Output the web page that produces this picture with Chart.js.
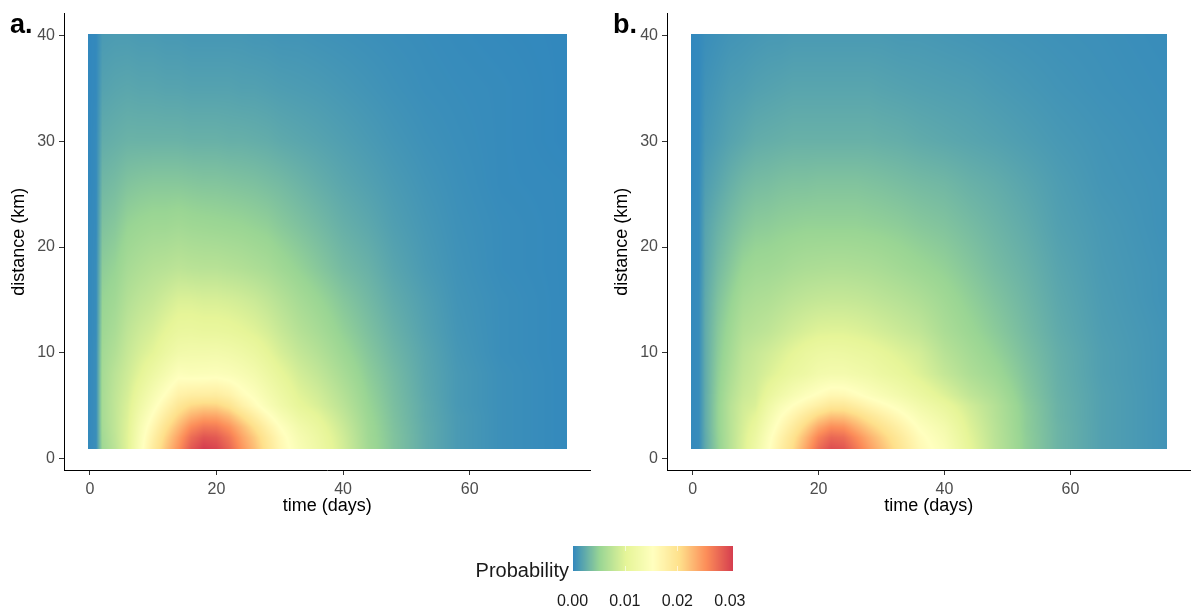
<!DOCTYPE html>
<html>
<head>
<meta charset="utf-8">
<title>Probability by time and distance</title>
<script src="https://cdn.jsdelivr.net/npm/chart.js@4.4.1/dist/chart.umd.min.js"></script>
<style>
  html, body { margin: 0; padding: 0; background: #fff; }
  body { position: relative; width: 1191px; height: 609px; overflow: hidden; }
  canvas { position: absolute; }
</style>
</head>
<body>
<canvas id="panelA" width="600" height="530" style="left:0;top:0"></canvas>
<canvas id="panelB" width="588" height="530" style="left:603px;top:0"></canvas>
<canvas id="scaleBar" width="320" height="89" style="left:440px;top:520px"></canvas>
<script>
// grid nodes: days since onset, distance from source
const timeDays = [0, 1, 2, 4, 6, 8, 10, 12, 14, 16, 18, 20, 22, 24, 26, 28, 30, 33, 36, 40, 44, 48, 53, 58, 65, 75];
const distanceKm = [1, 2, 3, 4, 5, 6, 8, 10, 12, 15, 18, 22, 26, 30, 35, 40];

// one row per day in timeDays, one value per distance in distanceKm
const probA = [
  [0.0002, 0.0002, 0.0002, 0.0002, 0.0002, 0.0002, 0.0002, 0.0002, 0.0002, 0.0002, 0.0002, 0.0002, 0.0001, 0.0001, 0.0001, 0.0001],
  [0.0005, 0.0005, 0.0005, 0.0005, 0.0005, 0.0005, 0.0005, 0.0005, 0.0004, 0.0004, 0.0004, 0.0003, 0.0003, 0.0003, 0.0002, 0.0002],
  [0.0056, 0.0058, 0.0060, 0.0061, 0.0061, 0.0061, 0.0060, 0.0058, 0.0055, 0.0051, 0.0046, 0.0039, 0.0032, 0.0025, 0.0018, 0.0013],
  [0.0075, 0.0077, 0.0078, 0.0078, 0.0078, 0.0077, 0.0074, 0.0068, 0.0063, 0.0057, 0.0051, 0.0043, 0.0035, 0.0027, 0.0020, 0.0014],
  [0.0100, 0.0100, 0.0099, 0.0097, 0.0095, 0.0092, 0.0087, 0.0082, 0.0077, 0.0069, 0.0061, 0.0051, 0.0040, 0.0029, 0.0021, 0.0014],
  [0.0145, 0.0142, 0.0137, 0.0130, 0.0122, 0.0115, 0.0102, 0.0093, 0.0086, 0.0076, 0.0066, 0.0054, 0.0042, 0.0029, 0.0020, 0.0013],
  [0.0185, 0.0178, 0.0168, 0.0157, 0.0146, 0.0136, 0.0118, 0.0102, 0.0093, 0.0081, 0.0070, 0.0056, 0.0043, 0.0029, 0.0020, 0.0013],
  [0.0220, 0.0212, 0.0200, 0.0185, 0.0170, 0.0156, 0.0133, 0.0115, 0.0103, 0.0088, 0.0072, 0.0056, 0.0043, 0.0029, 0.0019, 0.0012],
  [0.0252, 0.0243, 0.0228, 0.0211, 0.0193, 0.0176, 0.0148, 0.0126, 0.0111, 0.0095, 0.0075, 0.0058, 0.0043, 0.0029, 0.0019, 0.0012],
  [0.0288, 0.0276, 0.0256, 0.0232, 0.0208, 0.0182, 0.0145, 0.0128, 0.0112, 0.0095, 0.0073, 0.0056, 0.0042, 0.0028, 0.0018, 0.0011],
  [0.0306, 0.0292, 0.0269, 0.0242, 0.0213, 0.0183, 0.0146, 0.0128, 0.0110, 0.0093, 0.0072, 0.0055, 0.0041, 0.0028, 0.0018, 0.0011],
  [0.0300, 0.0288, 0.0267, 0.0241, 0.0212, 0.0184, 0.0147, 0.0129, 0.0110, 0.0093, 0.0072, 0.0054, 0.0041, 0.0028, 0.0018, 0.0011],
  [0.0280, 0.0270, 0.0252, 0.0228, 0.0200, 0.0176, 0.0144, 0.0126, 0.0108, 0.0091, 0.0070, 0.0053, 0.0040, 0.0027, 0.0018, 0.0011],
  [0.0250, 0.0242, 0.0228, 0.0205, 0.0178, 0.0160, 0.0138, 0.0121, 0.0104, 0.0088, 0.0068, 0.0052, 0.0039, 0.0027, 0.0017, 0.0011],
  [0.0225, 0.0218, 0.0203, 0.0182, 0.0160, 0.0148, 0.0130, 0.0114, 0.0099, 0.0084, 0.0065, 0.0050, 0.0038, 0.0026, 0.0017, 0.0010],
  [0.0196, 0.0190, 0.0177, 0.0160, 0.0142, 0.0133, 0.0118, 0.0104, 0.0092, 0.0078, 0.0062, 0.0048, 0.0036, 0.0025, 0.0016, 0.0010],
  [0.0168, 0.0164, 0.0154, 0.0140, 0.0126, 0.0119, 0.0106, 0.0093, 0.0083, 0.0071, 0.0057, 0.0044, 0.0034, 0.0023, 0.0015, 0.0009],
  [0.0140, 0.0136, 0.0128, 0.0117, 0.0106, 0.0100, 0.0090, 0.0080, 0.0071, 0.0061, 0.0050, 0.0039, 0.0030, 0.0021, 0.0014, 0.0009],
  [0.0120, 0.0117, 0.0111, 0.0103, 0.0094, 0.0089, 0.0079, 0.0070, 0.0062, 0.0053, 0.0043, 0.0034, 0.0026, 0.0019, 0.0013, 0.0008],
  [0.0090, 0.0088, 0.0084, 0.0079, 0.0074, 0.0070, 0.0062, 0.0055, 0.0049, 0.0042, 0.0034, 0.0027, 0.0021, 0.0016, 0.0011, 0.0007],
  [0.0058, 0.0057, 0.0056, 0.0054, 0.0052, 0.0050, 0.0046, 0.0042, 0.0038, 0.0033, 0.0028, 0.0022, 0.0017, 0.0013, 0.0009, 0.0006],
  [0.0040, 0.0040, 0.0039, 0.0038, 0.0037, 0.0036, 0.0034, 0.0031, 0.0028, 0.0024, 0.0020, 0.0016, 0.0013, 0.0010, 0.0007, 0.0005],
  [0.0024, 0.0024, 0.0024, 0.0023, 0.0023, 0.0022, 0.0021, 0.0020, 0.0018, 0.0016, 0.0013, 0.0011, 0.0009, 0.0007, 0.0005, 0.0004],
  [0.0013, 0.0013, 0.0013, 0.0013, 0.0012, 0.0012, 0.0012, 0.0011, 0.0010, 0.0009, 0.0008, 0.0007, 0.0006, 0.0005, 0.0004, 0.0003],
  [0.0006, 0.0006, 0.0006, 0.0006, 0.0006, 0.0006, 0.0006, 0.0005, 0.0005, 0.0005, 0.0004, 0.0004, 0.0003, 0.0003, 0.0003, 0.0002],
  [0.0002, 0.0002, 0.0002, 0.0002, 0.0002, 0.0002, 0.0002, 0.0002, 0.0002, 0.0002, 0.0002, 0.0002, 0.0002, 0.0001, 0.0001, 0.0001]
];

const probB = [
  [0.0002, 0.0002, 0.0002, 0.0002, 0.0002, 0.0002, 0.0002, 0.0002, 0.0002, 0.0002, 0.0002, 0.0002, 0.0001, 0.0001, 0.0001, 0.0001],
  [0.0004, 0.0004, 0.0004, 0.0004, 0.0004, 0.0004, 0.0004, 0.0004, 0.0004, 0.0004, 0.0003, 0.0003, 0.0003, 0.0002, 0.0002, 0.0002],
  [0.0023, 0.0023, 0.0024, 0.0024, 0.0024, 0.0024, 0.0024, 0.0024, 0.0024, 0.0023, 0.0021, 0.0019, 0.0015, 0.0011, 0.0008, 0.0005],
  [0.0048, 0.0049, 0.0050, 0.0050, 0.0050, 0.0049, 0.0047, 0.0045, 0.0043, 0.0039, 0.0034, 0.0028, 0.0021, 0.0015, 0.0011, 0.0007],
  [0.0072, 0.0072, 0.0072, 0.0072, 0.0072, 0.0069, 0.0064, 0.0060, 0.0056, 0.0050, 0.0043, 0.0035, 0.0027, 0.0019, 0.0014, 0.0009],
  [0.0095, 0.0094, 0.0092, 0.0090, 0.0088, 0.0084, 0.0079, 0.0075, 0.0069, 0.0061, 0.0052, 0.0041, 0.0032, 0.0022, 0.0015, 0.0010],
  [0.0120, 0.0116, 0.0110, 0.0103, 0.0095, 0.0091, 0.0086, 0.0082, 0.0073, 0.0065, 0.0056, 0.0045, 0.0035, 0.0025, 0.0017, 0.0011],
  [0.0150, 0.0146, 0.0138, 0.0129, 0.0120, 0.0109, 0.0095, 0.0088, 0.0077, 0.0067, 0.0057, 0.0046, 0.0036, 0.0026, 0.0018, 0.0012],
  [0.0180, 0.0174, 0.0164, 0.0153, 0.0140, 0.0124, 0.0104, 0.0095, 0.0083, 0.0071, 0.0059, 0.0048, 0.0038, 0.0027, 0.0019, 0.0012],
  [0.0207, 0.0200, 0.0187, 0.0172, 0.0155, 0.0137, 0.0113, 0.0103, 0.0089, 0.0075, 0.0062, 0.0049, 0.0039, 0.0028, 0.0020, 0.0013],
  [0.0240, 0.0230, 0.0212, 0.0191, 0.0168, 0.0148, 0.0119, 0.0110, 0.0094, 0.0078, 0.0064, 0.0050, 0.0039, 0.0028, 0.0020, 0.0013],
  [0.0275, 0.0262, 0.0239, 0.0211, 0.0180, 0.0157, 0.0128, 0.0115, 0.0098, 0.0080, 0.0065, 0.0050, 0.0040, 0.0028, 0.0020, 0.0013],
  [0.0295, 0.0280, 0.0255, 0.0224, 0.0192, 0.0166, 0.0131, 0.0117, 0.0099, 0.0081, 0.0066, 0.0050, 0.0040, 0.0028, 0.0020, 0.0013],
  [0.0290, 0.0276, 0.0252, 0.0222, 0.0192, 0.0165, 0.0131, 0.0116, 0.0099, 0.0081, 0.0066, 0.0050, 0.0040, 0.0028, 0.0020, 0.0013],
  [0.0268, 0.0256, 0.0234, 0.0210, 0.0182, 0.0157, 0.0127, 0.0113, 0.0097, 0.0080, 0.0065, 0.0050, 0.0040, 0.0028, 0.0020, 0.0013],
  [0.0245, 0.0235, 0.0216, 0.0195, 0.0170, 0.0148, 0.0123, 0.0110, 0.0094, 0.0078, 0.0064, 0.0049, 0.0039, 0.0028, 0.0020, 0.0013],
  [0.0225, 0.0216, 0.0200, 0.0181, 0.0160, 0.0140, 0.0116, 0.0105, 0.0090, 0.0075, 0.0062, 0.0048, 0.0038, 0.0027, 0.0019, 0.0013],
  [0.0195, 0.0188, 0.0176, 0.0161, 0.0145, 0.0128, 0.0108, 0.0097, 0.0084, 0.0071, 0.0058, 0.0046, 0.0036, 0.0026, 0.0018, 0.0012],
  [0.0165, 0.0160, 0.0151, 0.0140, 0.0128, 0.0115, 0.0097, 0.0090, 0.0078, 0.0066, 0.0054, 0.0043, 0.0034, 0.0024, 0.0017, 0.0012],
  [0.0142, 0.0137, 0.0130, 0.0120, 0.0110, 0.0097, 0.0080, 0.0072, 0.0064, 0.0057, 0.0049, 0.0040, 0.0032, 0.0022, 0.0016, 0.0011],
  [0.0104, 0.0101, 0.0097, 0.0093, 0.0088, 0.0078, 0.0066, 0.0060, 0.0054, 0.0048, 0.0042, 0.0035, 0.0028, 0.0020, 0.0015, 0.0010],
  [0.0075, 0.0074, 0.0073, 0.0071, 0.0070, 0.0065, 0.0056, 0.0050, 0.0045, 0.0040, 0.0035, 0.0030, 0.0025, 0.0018, 0.0013, 0.0009],
  [0.0047, 0.0047, 0.0046, 0.0046, 0.0045, 0.0043, 0.0040, 0.0037, 0.0034, 0.0031, 0.0028, 0.0024, 0.0020, 0.0015, 0.0011, 0.0008],
  [0.0030, 0.0030, 0.0030, 0.0029, 0.0029, 0.0028, 0.0027, 0.0026, 0.0024, 0.0022, 0.0020, 0.0017, 0.0015, 0.0012, 0.0009, 0.0007],
  [0.0017, 0.0017, 0.0017, 0.0017, 0.0017, 0.0017, 0.0016, 0.0016, 0.0015, 0.0014, 0.0013, 0.0012, 0.0010, 0.0009, 0.0007, 0.0006],
  [0.0009, 0.0009, 0.0009, 0.0009, 0.0009, 0.0009, 0.0009, 0.0009, 0.0009, 0.0008, 0.0008, 0.0007, 0.0007, 0.0006, 0.0005, 0.0004]
];

const dayTicks = [0, 20, 40, 60];
const kmTicks = [0, 10, 20, 30, 40];
const probTicks = [0, 0.01, 0.02, 0.03];

// Spectral, low -> high
const spectral = ['#3288BD', '#99D594', '#E6F598', '#FFFFBF', '#FEE08B', '#FC8D59', '#D53E4F'];
const paletteRgb = spectral.map(h => [1, 3, 5].map(i => parseInt(h.slice(i, i + 2), 16)));

const allProb = probA.flat().concat(probB.flat());
const probMin = Math.min(...allProb);
const probMax = Math.max(...allProb);

// raster cells reach a little past the outer nodes
const halfDay = 0.3;
const halfKm = 0.1;
const dayLo = timeDays[0] - halfDay, dayHi = timeDays[timeDays.length - 1] + halfDay;
const kmLo = distanceKm[0] - halfKm, kmHi = distanceKm[distanceKm.length - 1] + halfKm;
// 5% padding on both axes
const dayPad = (dayHi - dayLo) * 0.05;
const kmPad = (kmHi - kmLo) * 0.05;

const FONT = "'Liberation Sans', Arial, sans-serif";
const tickFont = { family: FONT, size: 16 };
const titleFont = { family: FONT, size: 18 };

function fillColour(v) {
  let f = (v - probMin) / (probMax - probMin);
  f = Math.min(1, Math.max(0, f)) * (paletteRgb.length - 1);
  const i = Math.min(Math.floor(f), paletteRgb.length - 2);
  const w = f - i;
  const a = paletteRgb[i], b = paletteRgb[i + 1];
  return [0, 1, 2].map(k => Math.round(a[k] + (b[k] - a[k]) * w));
}

// index of the node interval holding v, and how far along it v sits
function bracket(nodes, v) {
  const last = nodes.length - 1;
  if (v <= nodes[0]) return [0, 0];
  if (v >= nodes[last]) return [last - 1, 1];
  let i = 0;
  while (nodes[i + 1] < v) i++;
  return [i, (v - nodes[i]) / (nodes[i + 1] - nodes[i])];
}

function rasterLayer(values) {
  return {
    id: 'raster',
    beforeDatasetsDraw(chart) {
      const { ctx, scales: { x, y } } = chart;
      const left = Math.round(x.getPixelForValue(dayLo));
      const right = Math.round(x.getPixelForValue(dayHi));
      const top = Math.round(y.getPixelForValue(kmHi));
      const bottom = Math.round(y.getPixelForValue(kmLo));
      const w = right - left, h = bottom - top;

      const cols = [], rows = [];
      for (let i = 0; i < w; i++) cols.push(bracket(timeDays, x.getValueForPixel(left + i + 0.5)));
      for (let j = 0; j < h; j++) rows.push(bracket(distanceKm, y.getValueForPixel(top + j + 0.5)));

      const img = ctx.createImageData(w, h);
      for (let j = 0; j < h; j++) {
        const [k, v] = rows[j];
        for (let i = 0; i < w; i++) {
          const [c, u] = cols[i];
          const p = (values[c][k] * (1 - v) + values[c][k + 1] * v) * (1 - u)
                  + (values[c + 1][k] * (1 - v) + values[c + 1][k + 1] * v) * u;
          const rgb = fillColour(p);
          const o = (j * w + i) * 4;
          img.data[o] = rgb[0];
          img.data[o + 1] = rgb[1];
          img.data[o + 2] = rgb[2];
          img.data[o + 3] = 255;
        }
      }
      ctx.putImageData(img, left, top);
    }
  };
}

function panelTag(text) {
  return {
    id: 'panelTag',
    afterDraw(chart) {
      const ctx = chart.ctx;
      ctx.save();
      ctx.font = `bold 27px ${FONT}`;
      ctx.fillStyle = '#000';
      ctx.textAlign = 'left';
      ctx.textBaseline = 'alphabetic';
      ctx.fillText(text, 10, 33);
      ctx.restore();
    }
  };
}

function axisStyle() {
  return {
    grid: { display: true, drawOnChartArea: false, drawTicks: true, tickLength: 5, tickColor: '#333', tickWidth: 1 },
    border: { display: true, color: '#000', width: 1 }
  };
}

function panel(id, values, tag, padRight) {
  return new Chart(document.getElementById(id), {
    type: 'scatter',
    data: { datasets: [{ data: [] }] },
    options: {
      responsive: false,
      animation: false,
      devicePixelRatio: 1,
      layout: { padding: { left: 0, top: 12, right: padRight, bottom: 0 } },
      plugins: { legend: { display: false }, tooltip: { enabled: false } },
      scales: {
        x: {
          type: 'linear',
          min: dayLo - dayPad,
          max: dayHi + dayPad,
          afterBuildTicks: s => { s.ticks = dayTicks.map(v => ({ value: v })); },
          afterFit: s => { s.height = 60; },
          ticks: { color: '#4d4d4d', font: tickFont, padding: 5, callback: v => String(v) },
          title: { display: true, text: 'time (days)', color: '#000', font: titleFont, padding: { top: 0, bottom: 13 } },
          ...axisStyle()
        },
        y: {
          type: 'linear',
          min: kmLo - kmPad,
          max: kmHi + kmPad,
          afterBuildTicks: s => { s.ticks = kmTicks.map(v => ({ value: v })); },
          afterFit: s => { s.width = 64; },
          ticks: { color: '#4d4d4d', font: tickFont, padding: 4, callback: v => String(v) },
          title: { display: true, text: 'distance (km)', color: '#000', font: titleFont, padding: { top: 8, bottom: 0 } },
          ...axisStyle()
        }
      }
    },
    plugins: [rasterLayer(values), panelTag(tag)]
  });
}

panel('panelA', probA, 'a.', 9.5);
panel('panelB', probB, 'b.', 0.5);

// colour bar drawn along its own value axis
const colourBar = {
  id: 'colourBar',
  beforeDatasetsDraw(chart) {
    const { ctx, chartArea: a, scales: { x } } = chart;
    for (let px = Math.round(a.left); px < Math.round(a.right); px++) {
      const rgb = fillColour(x.getValueForPixel(px + 0.5));
      ctx.fillStyle = `rgb(${rgb[0]},${rgb[1]},${rgb[2]})`;
      ctx.fillRect(px, a.top, 1, a.bottom - a.top);
    }
    ctx.save();
    ctx.strokeStyle = 'rgba(255,255,255,0.6)';
    ctx.lineWidth = 1;
    probTicks.forEach(v => {
      const px = Math.round(x.getPixelForValue(v)) + 0.5;
      if (px <= a.left + 4 || px >= a.right - 4) return;
      const len = (a.bottom - a.top) / 5;
      ctx.beginPath();
      ctx.moveTo(px, a.top); ctx.lineTo(px, a.top + len);
      ctx.moveTo(px, a.bottom - len); ctx.lineTo(px, a.bottom);
      ctx.stroke();
    });
    ctx.restore();
  },
  afterDraw(chart) {
    const { ctx, chartArea: a } = chart;
    ctx.save();
    ctx.font = `20px ${FONT}`;
    ctx.fillStyle = '#1a1a1a';
    ctx.textAlign = 'right';
    ctx.textBaseline = 'alphabetic';
    ctx.fillText('Probability', a.left - 4, 57);
    ctx.restore();
  }
};

new Chart(document.getElementById('scaleBar'), {
  type: 'scatter',
  data: { datasets: [{ data: [] }] },
  options: {
    responsive: false,
    animation: false,
    devicePixelRatio: 1,
    layout: { padding: { left: 133, top: 26, right: 27, bottom: 0 } },
    plugins: { legend: { display: false }, tooltip: { enabled: false } },
    scales: {
      x: {
        type: 'linear',
        min: probMin,
        max: probMax,
        afterBuildTicks: s => { s.ticks = probTicks.map(v => ({ value: v })); },
        afterFit: s => { s.height = 38; },
        ticks: { color: '#1a1a1a', font: tickFont, padding: 13, callback: v => v.toFixed(2) },
        grid: { display: false },
        border: { display: false }
      },
      y: { display: false, min: 0, max: 1 }
    }
  },
  plugins: [colourBar]
});
</script>
</body>
</html>
